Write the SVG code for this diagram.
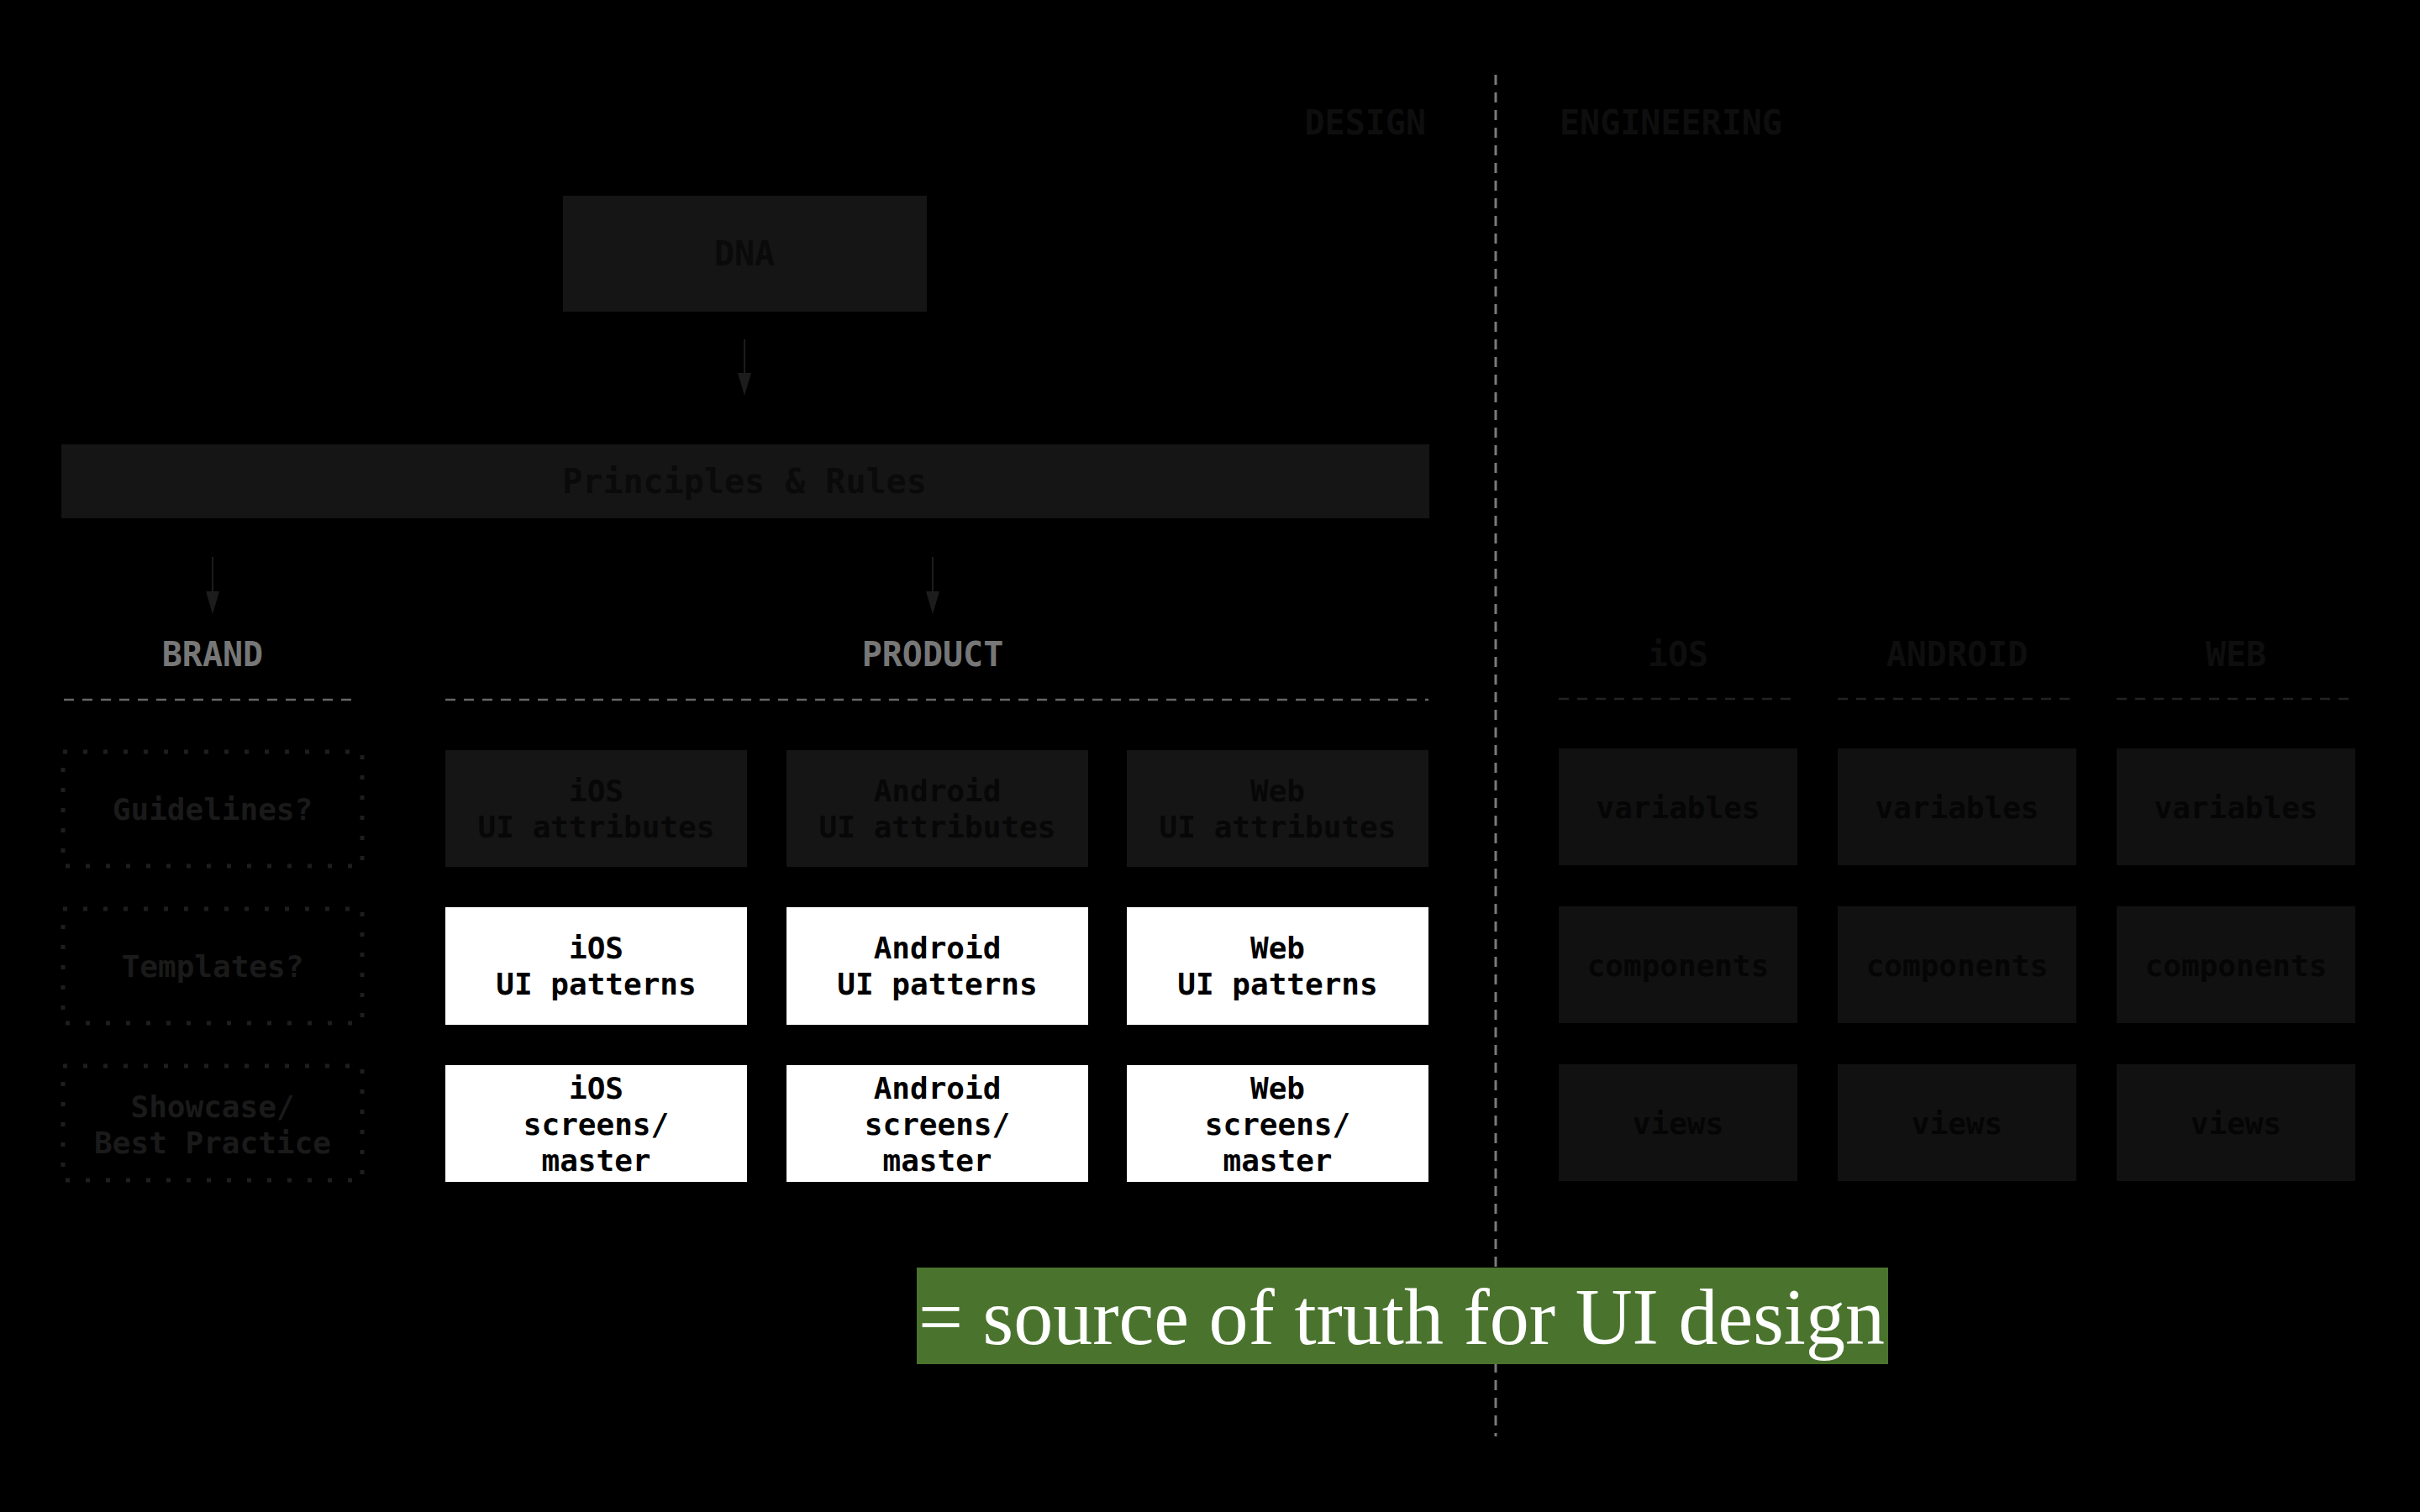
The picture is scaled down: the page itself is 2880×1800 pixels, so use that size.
<svg xmlns="http://www.w3.org/2000/svg" width="2880" height="1800" viewBox="0 0 2880 1800">
<defs>
<style>
.mono{font-family:"DejaVu Sans Mono","Liberation Mono",monospace;font-weight:bold;text-anchor:middle}
.h40{font-size:40px}
.t36{font-size:36px}
.dark{fill:#151515}
.eng{fill:#111111}
.txtdark{fill:#050505}
.white{fill:#ffffff}
.dot{fill:none;stroke:#1e1e1e;stroke-width:5;stroke-dasharray:5 19}
.conn{stroke:#1c1c1c;stroke-width:2;fill:none}
</style>
</defs>
<rect x="0" y="0" width="2880" height="1800" fill="#000000"/>

<!-- divider and section titles -->
<line x1="1780" y1="89" x2="1780" y2="1710" stroke="#7a7a7a" stroke-width="3" stroke-dasharray="12 9"/>
<text class="mono h40" x="1697" y="160" style="text-anchor:end" fill="#0e0e0e">DESIGN</text>
<text class="mono h40" x="1856" y="160" style="text-anchor:start" fill="#0e0e0e">ENGINEERING</text>

<g id="connectors">
<line class="conn" x1="886" y1="404" x2="886" y2="444"/>
<path d="M878,444 L894,444 L886,471 Z" fill="#1c1c1c"/>
<line class="conn" x1="253" y1="663" x2="253" y2="704"/>
<path d="M245,704 L261,704 L253,731 Z" fill="#1c1c1c"/>
<line class="conn" x1="1110" y1="663" x2="1110" y2="704"/>
<path d="M1102,704 L1118,704 L1110,731 Z" fill="#1c1c1c"/>
</g>

<g id="dna">
<rect class="dark" x="670" y="233" width="433" height="138"/>
<text class="mono h40" x="886" y="316" fill="#0a0a0a">DNA</text>
</g>
<g id="principles">
<rect class="dark" x="73" y="529" width="1628" height="88"/>
<text class="mono h40" x="886" y="587" fill="#0a0a0a">Principles &amp; Rules</text>
</g>

<!-- headings -->
<g id="brand-heading">
<text class="mono h40" x="253" y="793" fill="#777777">BRAND</text>
<line x1="76" y1="833" x2="425" y2="833" stroke="#666666" stroke-width="2.5" stroke-dasharray="12 10"/>
</g>
<g id="product-heading">
<text class="mono h40" x="1110" y="793" fill="#777777">PRODUCT</text>
<line x1="530" y1="833" x2="1700" y2="833" stroke="#666666" stroke-width="2.5" stroke-dasharray="12 10"/>
</g>
<g id="ios-heading">
<text class="mono h40" x="1997" y="793" fill="#0e0e0e">iOS</text>
<line x1="1855" y1="832" x2="2139" y2="832" stroke="#222222" stroke-width="2.5" stroke-dasharray="12 10"/>
</g>
<g id="android-heading">
<text class="mono h40" x="2329" y="793" fill="#0e0e0e">ANDROID</text>
<line x1="2187" y1="832" x2="2471" y2="832" stroke="#222222" stroke-width="2.5" stroke-dasharray="12 10"/>
</g>
<g id="web-heading">
<text class="mono h40" x="2661" y="793" fill="#0e0e0e">WEB</text>
<line x1="2519" y1="832" x2="2803" y2="832" stroke="#222222" stroke-width="2.5" stroke-dasharray="12 10"/>
</g>

<!-- brand dotted boxes -->
<g id="guidelines">
<rect class="dot" x="75" y="895" width="356" height="136"/>
<text class="mono t36" x="253" y="976" fill="#1a1a1a">Guidelines?</text>
</g>
<g id="templates">
<rect class="dot" x="75" y="1082" width="356" height="136"/>
<text class="mono t36" x="253" y="1163" fill="#1a1a1a">Templates?</text>
</g>
<g id="showcase">
<rect class="dot" x="75" y="1269" width="356" height="136"/>
<text class="mono t36" x="253" y="1330" fill="#1a1a1a">Showcase/</text>
<text class="mono t36" x="253" y="1373" fill="#1a1a1a">Best Practice</text>
</g>

<!-- product attributes -->
<g id="ios-attr">
<rect x="530" y="893" width="359" height="139" fill="#151515"/>
<text class="mono t36" x="709.5" y="954" fill="#070707">iOS</text>
<text class="mono t36" x="709.5" y="997" fill="#070707">UI attributes</text>
</g>
<g id="android-attr">
<rect x="936" y="893" width="359" height="139" fill="#151515"/>
<text class="mono t36" x="1115.5" y="954" fill="#070707">Android</text>
<text class="mono t36" x="1115.5" y="997" fill="#070707">UI attributes</text>
</g>
<g id="web-attr">
<rect x="1341" y="893" width="359" height="139" fill="#151515"/>
<text class="mono t36" x="1520.5" y="954" fill="#070707">Web</text>
<text class="mono t36" x="1520.5" y="997" fill="#070707">UI attributes</text>
</g>

<!-- product patterns -->
<g id="ios-patterns">
<rect class="white" x="530" y="1080" width="359" height="140"/>
<text class="mono t36" x="709.5" y="1141" fill="#000000">iOS</text>
<text class="mono t36" x="709.5" y="1184" fill="#000000">UI patterns</text>
</g>
<g id="android-patterns">
<rect class="white" x="936" y="1080" width="359" height="140"/>
<text class="mono t36" x="1115.5" y="1141" fill="#000000">Android</text>
<text class="mono t36" x="1115.5" y="1184" fill="#000000">UI patterns</text>
</g>
<g id="web-patterns">
<rect class="white" x="1341" y="1080" width="359" height="140"/>
<text class="mono t36" x="1520.5" y="1141" fill="#000000">Web</text>
<text class="mono t36" x="1520.5" y="1184" fill="#000000">UI patterns</text>
</g>

<!-- product screens -->
<g id="ios-screens">
<rect class="white" x="530" y="1268" width="359" height="139"/>
<text class="mono t36" x="709.5" y="1308" fill="#000000">iOS</text>
<text class="mono t36" x="709.5" y="1351" fill="#000000">screens/</text>
<text class="mono t36" x="709.5" y="1394" fill="#000000">master</text>
</g>
<g id="android-screens">
<rect class="white" x="936" y="1268" width="359" height="139"/>
<text class="mono t36" x="1115.5" y="1308" fill="#000000">Android</text>
<text class="mono t36" x="1115.5" y="1351" fill="#000000">screens/</text>
<text class="mono t36" x="1115.5" y="1394" fill="#000000">master</text>
</g>
<g id="web-screens">
<rect class="white" x="1341" y="1268" width="359" height="139"/>
<text class="mono t36" x="1520.5" y="1308" fill="#000000">Web</text>
<text class="mono t36" x="1520.5" y="1351" fill="#000000">screens/</text>
<text class="mono t36" x="1520.5" y="1394" fill="#000000">master</text>
</g>

<!-- engineering -->
<g id="ios-variables"><rect class="eng" x="1855" y="891" width="284" height="139"/><text class="mono t36 txtdark" x="1997" y="974">variables</text></g>
<g id="android-variables"><rect class="eng" x="2187" y="891" width="284" height="139"/><text class="mono t36 txtdark" x="2329" y="974">variables</text></g>
<g id="web-variables"><rect class="eng" x="2519" y="891" width="284" height="139"/><text class="mono t36 txtdark" x="2661" y="974">variables</text></g>
<g id="ios-components"><rect class="eng" x="1855" y="1079" width="284" height="139"/><text class="mono t36 txtdark" x="1997" y="1162">components</text></g>
<g id="android-components"><rect class="eng" x="2187" y="1079" width="284" height="139"/><text class="mono t36 txtdark" x="2329" y="1162">components</text></g>
<g id="web-components"><rect class="eng" x="2519" y="1079" width="284" height="139"/><text class="mono t36 txtdark" x="2661" y="1162">components</text></g>
<g id="ios-views"><rect class="eng" x="1855" y="1267" width="284" height="139"/><text class="mono t36 txtdark" x="1997" y="1350">views</text></g>
<g id="android-views"><rect class="eng" x="2187" y="1267" width="284" height="139"/><text class="mono t36 txtdark" x="2329" y="1350">views</text></g>
<g id="web-views"><rect class="eng" x="2519" y="1267" width="284" height="139"/><text class="mono t36 txtdark" x="2661" y="1350">views</text></g>

<!-- banner -->
<g id="banner">
<rect x="1091" y="1509" width="1156" height="115" fill="#4a742e"/>
<text x="1093" y="1600" font-family="'Liberation Serif',serif" font-size="96" fill="#ffffff" textLength="1150" lengthAdjust="spacingAndGlyphs">= source of truth for UI design</text>
</g>
</svg>
